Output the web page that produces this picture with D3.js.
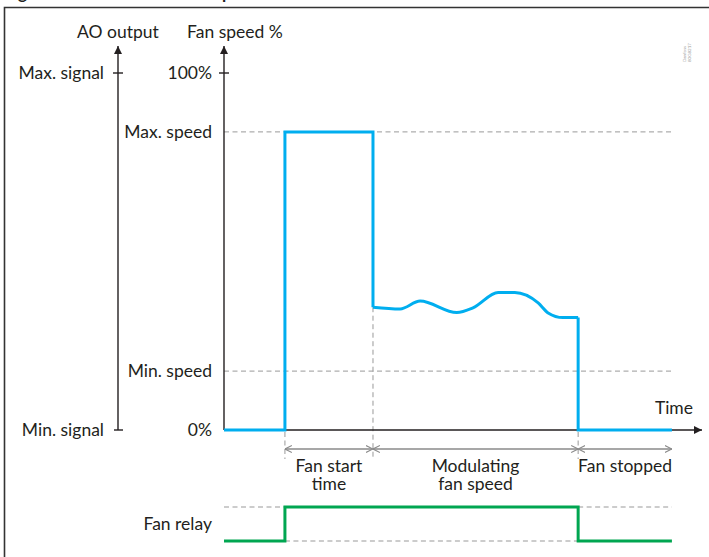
<!DOCTYPE html>
<html><head><meta charset="utf-8">
<script src="https://cdn.jsdelivr.net/npm/d3@7"></script>
<style>
html,body{margin:0;padding:0;background:#fff;}
svg{display:block;}
text{font-family:Lato,"Open Sans",sans-serif;fill:#231f20;}
</style></head>
<body>
<script>
// ---- data ----
const speedTickValues = [0, 16.5, 83.5, 100];
const speedTickLabels = ["0%", "Min. speed", "Max. speed", "100%"];
const signalTickValues = [0, 100];
const signalTickLabels = ["Min. signal", "Max. signal"];
const phaseTimes = [12.8, 31.3, 74.4, 94.1];          // fan start, modulation start, fan stop, end
const phaseLabels = [["Fan start", "time"], ["Modulating", "fan speed"], ["Fan stopped"]];
const startTimes = [0, 12.8, 12.8, 31.3, 31.3];
const startSpeeds = [0, 0, 83.5, 83.5, 34.4];
const modTimes = [31.3, 37.0, 41.2, 48.9, 52.3, 57.6, 61.1, 66.0, 68.1, 71.2, 74.4];
const modSpeeds = [34.4, 33.9, 36.1, 32.9, 34.2, 38.5, 38.5, 35.6, 32.8, 31.5, 31.5];
const stopTimes = [74.4, 74.4, 94.1];
const stopSpeeds = [31.5, 0, 0];
const relayTimes = [0, 12.8, 12.8, 74.4, 74.4, 94.1];
const relayStates = [0, 0, 1, 1, 0, 0];

const W = 709, H = 557, FS = "17.5px";
const svg = d3.select("body").append("svg").attr("width", W).attr("height", H);
const defs = svg.append("defs");
defs.append("marker").attr("id","ah").attr("viewBox","0 0 10 10").attr("refX",10).attr("refY",5)
  .attr("markerWidth",18).attr("markerHeight",8).attr("markerUnits","userSpaceOnUse").attr("orient","auto")
  .append("path").attr("d","M0,0L10,5L0,10Z").attr("fill","#231f20");
defs.append("marker").attr("id","oa").attr("viewBox","0 0 10 10").attr("refX",10).attr("refY",5)
  .attr("markerWidth",7).attr("markerHeight",11).attr("markerUnits","userSpaceOnUse").attr("orient","auto-start-reverse")
  .append("path").attr("d","M0,0L10,5L0,10").attr("fill","none").attr("stroke","#8a8a8a").attr("stroke-width",1.6);

// frame + cropped title (only descenders visible, as in the reference)
svg.append("text").attr("x",4).attr("y",-1.5).style("font-weight","bold").style("font-size","17px")
  .text("Figure 12: Fan start and fan speed control");
svg.append("path").attr("d",`M4.5,${H}V7.5H${W}`).attr("fill","none").attr("stroke","#333").attr("stroke-width",1.6);

// scales
const x = d3.scaleLinear().domain([0,100]).range([224,700]);
const y = d3.scaleLinear().domain([0,100]).range([430,73]);
const yr = d3.scaleLinear().domain([0,1]).range([541,507]);
const aoX = 118, fsX = x(0);
const dash = "5,3.5";

// dashed guides
[16.5, 83.5].forEach(v => {
  svg.append("line").attr("x1",fsX).attr("x2",x(94.1)).attr("y1",y(v)).attr("y2",y(v))
    .attr("stroke","#999").attr("stroke-dasharray",dash);
});
phaseTimes.slice(0,3).forEach((t,i) => {
  svg.append("line").attr("x1",x(t)).attr("x2",x(t)).attr("y1", i===1 ? y(34.4) : y(0)+2).attr("y2",459)
    .attr("stroke","#999").attr("stroke-dasharray",dash);
});
// relay guides
svg.append("line").attr("x1",fsX).attr("x2",x(12.8)).attr("y1",yr(1)).attr("y2",yr(1)).attr("stroke","#999").attr("stroke-dasharray",dash);
svg.append("line").attr("x1",x(74.4)).attr("x2",x(94.1)).attr("y1",yr(1)).attr("y2",yr(1)).attr("stroke","#999").attr("stroke-dasharray",dash);
svg.append("line").attr("x1",x(12.8)).attr("x2",x(74.4)).attr("y1",yr(0)).attr("y2",yr(0)).attr("stroke","#999").attr("stroke-dasharray",dash);

// dimension arrows
for (let i=0;i<3;i++){
  svg.append("line").attr("x1",x(phaseTimes[i])).attr("x2",x(phaseTimes[i+1])).attr("y1",449).attr("y2",449)
    .attr("stroke","#8a8a8a").attr("stroke-width",1.3).attr("marker-start","url(#oa)").attr("marker-end","url(#oa)");
  const cx = (x(phaseTimes[i])+x(phaseTimes[i+1]))/2;
  const t = svg.append("text").attr("x",cx).attr("y",472).attr("text-anchor","middle").style("font-size",FS);
  phaseLabels[i].forEach((s,j)=>{
    t.append("tspan").attr("x",cx).attr("dy", j===0 ? 0 : 18).text(s);
  });
}

// axes
svg.append("line").attr("x1",aoX).attr("x2",aoX).attr("y1",y(0)).attr("y2",46).attr("stroke","#231f20").attr("stroke-width",1.4).attr("marker-end","url(#ah)");
svg.append("line").attr("x1",fsX).attr("x2",fsX).attr("y1",y(0)).attr("y2",46).attr("stroke","#231f20").attr("stroke-width",1.4).attr("marker-end","url(#ah)");
svg.append("line").attr("x1",fsX).attr("x2",x(100)+2).attr("y1",y(0)).attr("y2",y(0)).attr("stroke","#231f20").attr("stroke-width",1.4).attr("marker-end","url(#ah)");
svg.append("text").attr("x",aoX).attr("y",38).attr("text-anchor","middle").style("font-size",FS).text("AO output");
svg.append("text").attr("x",fsX+11).attr("y",38).attr("text-anchor","middle").style("font-size",FS).text("Fan speed %");
svg.append("text").attr("x",693).attr("y",414).attr("text-anchor","end").style("font-size",FS).text("Time");

signalTickValues.forEach((v,i)=>{
  svg.append("line").attr("x1", v===0 ? aoX-4 : aoX-5).attr("x2",aoX+5).attr("y1",y(v)).attr("y2",y(v)).attr("stroke","#231f20").attr("stroke-width",1.4);
  svg.append("text").attr("x",aoX-14).attr("y",y(v)+6).attr("text-anchor","end").style("font-size",FS).text(signalTickLabels[i]);
});
speedTickValues.forEach((v,i)=>{
  if (v===100) svg.append("line").attr("x1",fsX-5).attr("x2",fsX+5).attr("y1",y(v)).attr("y2",y(v)).attr("stroke","#231f20").attr("stroke-width",1.4);
  svg.append("text").attr("x",fsX-12).attr("y",y(v)+6).attr("text-anchor","end").style("font-size",FS).text(speedTickLabels[i]);
});

// fan speed line
const line = d3.line().x(d=>x(d[0])).y(d=>y(d[1]));
const blue = "#00aeef";
svg.append("path").attr("d", line(d3.zip(startTimes,startSpeeds))).attr("fill","none").attr("stroke",blue).attr("stroke-width",3).attr("stroke-linejoin","miter");
svg.append("path").attr("d", line.curve(d3.curveMonotoneX)(d3.zip(modTimes,modSpeeds))).attr("fill","none").attr("stroke",blue).attr("stroke-width",3).attr("stroke-linejoin","round");
line.curve(d3.curveLinear);
svg.append("path").attr("d", line(d3.zip(stopTimes,stopSpeeds))).attr("fill","none").attr("stroke",blue).attr("stroke-width",3);

// relay
const rline = d3.line().x(d=>x(d[0])).y(d=>yr(d[1]));
svg.append("path").attr("d", rline(d3.zip(relayTimes,relayStates))).attr("fill","none").attr("stroke","#00a651").attr("stroke-width",3);
svg.append("text").attr("x",fsX-12).attr("y",yr(0.5)+6).attr("text-anchor","end").style("font-size",FS).text("Fan relay");

// tiny code
const g = svg.append("g").attr("transform","translate(686,62) rotate(-90)");
g.append("text").attr("x",0).attr("y",0).style("font-size","4.5px").style("fill","#999").text("Danfoss");
g.append("text").attr("x",0).attr("y",5).style("font-size","4.5px").style("fill","#999").text("80G8217");
</script>
</body></html>
